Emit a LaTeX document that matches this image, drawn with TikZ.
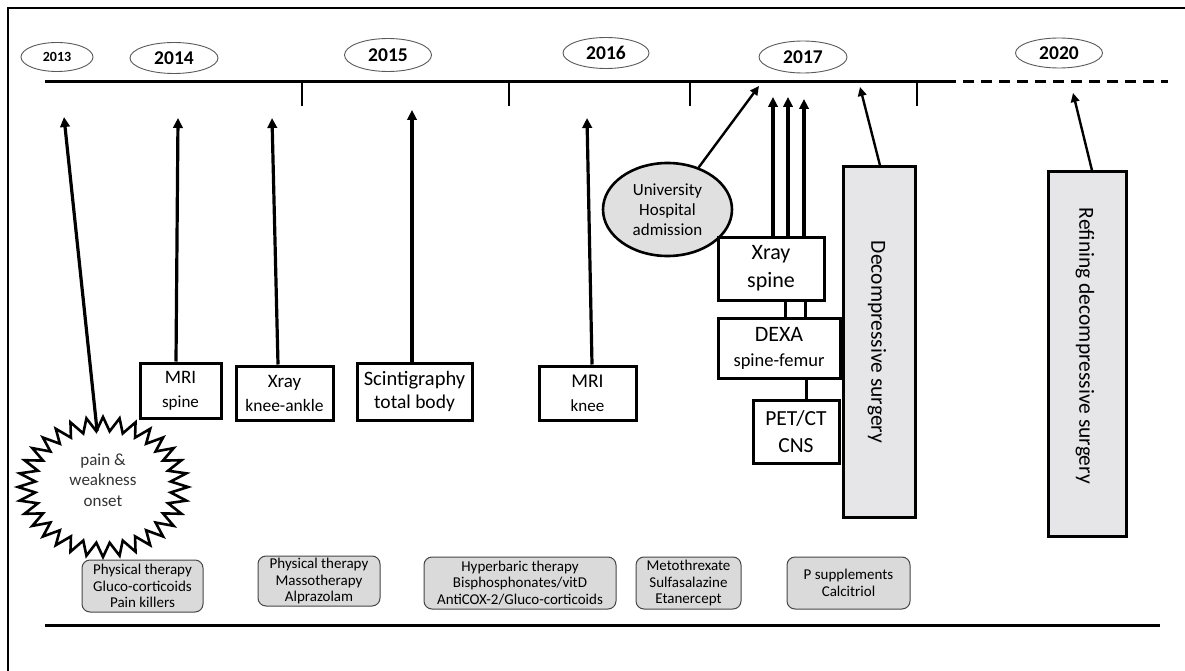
\documentclass[tikz,border=0pt]{standalone}
\usepackage{fontspec}
\setmainfont{Carlito}
\usetikzlibrary{arrows.meta,calc,shapes.geometric}
\definecolor{uniFill}{RGB}{224,224,224}
\definecolor{surgFill}{RGB}{230,230,232}
\definecolor{treatFill}{RGB}{218,218,218}
\definecolor{treatDraw}{RGB}{70,70,70}
\definecolor{yearDraw}{RGB}{90,90,90}
\begin{document}
\begin{tikzpicture}[x=1pt,y=-1pt,
  yearnode/.style={ellipse,draw=yearDraw,line width=0.9pt,inner sep=0pt,minimum width=87pt,minimum height=31pt,font=\bfseries\fontsize{19.5}{19.5}\selectfont},
  exambox/.style={draw=black,line width=3pt,inner sep=0pt,align=center},
  surgbox/.style={draw=black,line width=3pt,fill=surgFill,inner sep=0pt},
  treatbox/.style={draw=treatDraw,line width=1pt,fill=treatFill,rounded corners=8pt,inner sep=0pt,align=center,font=\fontsize{15}{16.8}\selectfont},
  arr/.style={line width=3.2pt,-{Triangle[length=10pt,width=9.5pt]}},
  thinarr/.style={line width=2.4pt,-{Triangle[length=9pt,width=8.5pt]}},
  axis/.style={line width=3pt},
  link/.style={line width=3pt}]
\useasboundingbox (0,0) rectangle (1185,671);
\fill[white] (0,0) rectangle (1185,671);
% frame
\draw[line width=2.2pt] (8,671) -- (8,8) -- (1185,8);

% years
\node[yearnode,minimum width=72pt,minimum height=29pt,font=\bfseries\fontsize{14}{14}\selectfont] (y13) at (57,57) {2013};
\node[yearnode,minimum width=88pt] (y14) at (174,58) {2014};
\node[yearnode,minimum height=33pt] (y15) at (388,55) {2015};
\node[yearnode,minimum width=86pt] (y16) at (606,53) {2016};
\node[yearnode,minimum width=88pt,minimum height=32pt] (y17) at (803,57) {2017};
\node[yearnode,minimum height=30pt] (y20) at (1059,53) {2020};

% timeline
\coordinate (tlA) at (45,82);
\coordinate (tlB) at (945,82);
\coordinate (tlC) at (1168,82);
\draw[axis] (tlA) -- (tlB);
\draw[axis,dash pattern=on 11pt off 7pt] (tlB) -- (tlC);
\foreach \x/\n in {302/a,509/b,690/c,917/d}{
  \coordinate (tk\n) at (\x,82);
  \coordinate (tke\n) at (\x,106);
  \draw[line width=2.8pt] (tk\n) -- (tke\n);
}

% burst
\node[ellipse,minimum width=136pt,minimum height=112pt,inner sep=0pt] (burst) at (103,487) {};
\draw[line width=2.6pt,line join=miter,miter limit=20,fill=white] (103+85,487)
  \foreach \i in {0,...,31}{ -- ({103+68*cos(\i*11.25+5.625)},{487+56*sin(\i*11.25+5.625)}) -- ({103+85*cos(\i*11.25+11.25)},{487+70*sin(\i*11.25+11.25)}) } -- cycle;
\node[align=center,font=\fontsize{17}{20.5}\selectfont,text=black!80] (burstText) at (103,480) {pain \&\\weakness\\onset};

% exam boxes
\node[exambox,minimum width=81pt,minimum height=55pt,font=\fontsize{17}{24}\selectfont] (mri1) at (180.5,390.5) {{\fontsize{19}{22}\selectfont MRI}\\spine};
\node[exambox,minimum width=97pt,minimum height=54pt,font=\fontsize{17.5}{24}\selectfont] (xk) at (284.5,393) {{\fontsize{19}{22}\selectfont Xray}\\knee-ankle};
\node[exambox,minimum width=115pt,minimum height=57pt,font=\fontsize{19.5}{23}\selectfont] (scint) at (414.5,391.5) {{\fontsize{20.5}{22}\selectfont Scintigraphy}\\total body};
\node[exambox,minimum width=97pt,minimum height=54pt,font=\fontsize{17}{24}\selectfont] (mri2) at (587.5,393) {{\fontsize{19.5}{22}\selectfont MRI}\\knee};
\node[ellipse,draw=black,line width=2.6pt,fill=uniFill,inner sep=0pt,minimum width=129pt,minimum height=93pt,align=center,font=\fontsize{17}{20}\selectfont] (uni) at (667.5,209.5) {University\\Hospital\\admission};
\node[exambox,minimum width=106pt,minimum height=63pt,font=\fontsize{22}{28}\selectfont] (xs) at (771,268.5) {Xray\\spine};
\node[exambox,minimum width=122pt,minimum height=60pt,font=\fontsize{18.5}{25}\selectfont] (dexa) at (779,348) {{\fontsize{22}{24}\selectfont DEXA}\\spine-femur};
\node[exambox,minimum width=86pt,minimum height=63pt,font=\fontsize{21.5}{27}\selectfont] (pet) at (796,431.5) {PET/CT\\CNS};

% surgery boxes
\node[surgbox,minimum width=72pt,minimum height=350pt] (dec) at (879,342) {};
\node[rotate=-90,font=\fontsize{21.5}{21.5}\selectfont] (decText) at (877,342) {Decompressive surgery};
\node[surgbox,minimum width=78pt,minimum height=364pt] (ref) at (1087,354) {};
\node[rotate=-90,font=\fontsize{21.5}{21.5}\selectfont] (refText) at (1085,346) {Refining decompressive surgery};

% arrow targets
\coordinate (tBurst) at (64,117);
\coordinate (tMri1) at (178,118);
\coordinate (tXk) at (272,118);
\coordinate (tScint) at (412,110);
\coordinate (tMri2) at (587,118);
\coordinate (tUni) at (759,86);
\coordinate (tXs1) at (773,97);
\coordinate (tXs2) at (788,97);
\coordinate (tXs3) at (804,99);
\coordinate (tDec) at (860,87);
\coordinate (tRef) at (1073,93);

\draw[arr] (burst.96) -- (tBurst);
\draw[arr] ($(mri1.north)+(-4.5,0)$) -- (tMri1);
\draw[arr] ($(xk.north)+(-6.5,0)$) -- (tXk);
\draw[arr] ($(scint.north)+(-2.5,0)$) -- (tScint);
\draw[arr] ($(mri2.north)+(4.5,0)$) -- (tMri2);
\draw[thinarr] (uni) -- (tUni);
\draw[arr] ($(xs.north)+(2,0)$) -- (tXs1);
\draw[arr] ($(xs.north)+(17,0)$) -- (tXs2);
\draw[arr] ($(xs.north)+(33,0)$) -- (tXs3);
\draw[link] ($(xs.south)+(14,0)$) -- ($(dexa.north)+(6,0)$);
\draw[link] ($(xs.south)+(34,0)$) -- ($(dexa.north)+(26,0)$);
\draw[link] ($(dexa.south)+(27,0)$) -- ($(pet.north)+(10,0)$);
\draw[thinarr] ($(dec.north)+(1,0)$) -- (tDec);
\draw[thinarr] ($(ref.north)+(5,0)$) -- (tRef);

% treatments
\node[treatbox,minimum width=121pt,minimum height=52pt] (t1) at (142.5,586) {Physical therapy\\Gluco-corticoids\\Pain killers};
\node[treatbox,minimum width=122pt,minimum height=50pt] (t2) at (319,581) {Physical therapy\\Massotherapy\\Alprazolam};
\node[treatbox,minimum width=192pt,minimum height=52pt] (t3) at (520,583) {Hyperbaric therapy\\Bisphosphonates/vitD\\AntiCOX-2/Gluco-corticoids};
\node[treatbox,minimum width=105pt,minimum height=52pt] (t4) at (688.5,583) {Metothrexate\\Sulfasalazine\\Etanercept};
\node[treatbox,minimum width=123pt,minimum height=52pt] (t5) at (848.5,583) {P supplements\\Calcitriol};

% bottom line
\coordinate (blA) at (45,625);
\coordinate (blB) at (1160,625);
\draw[axis] (blA) -- (blB);
\end{tikzpicture}
\end{document}
